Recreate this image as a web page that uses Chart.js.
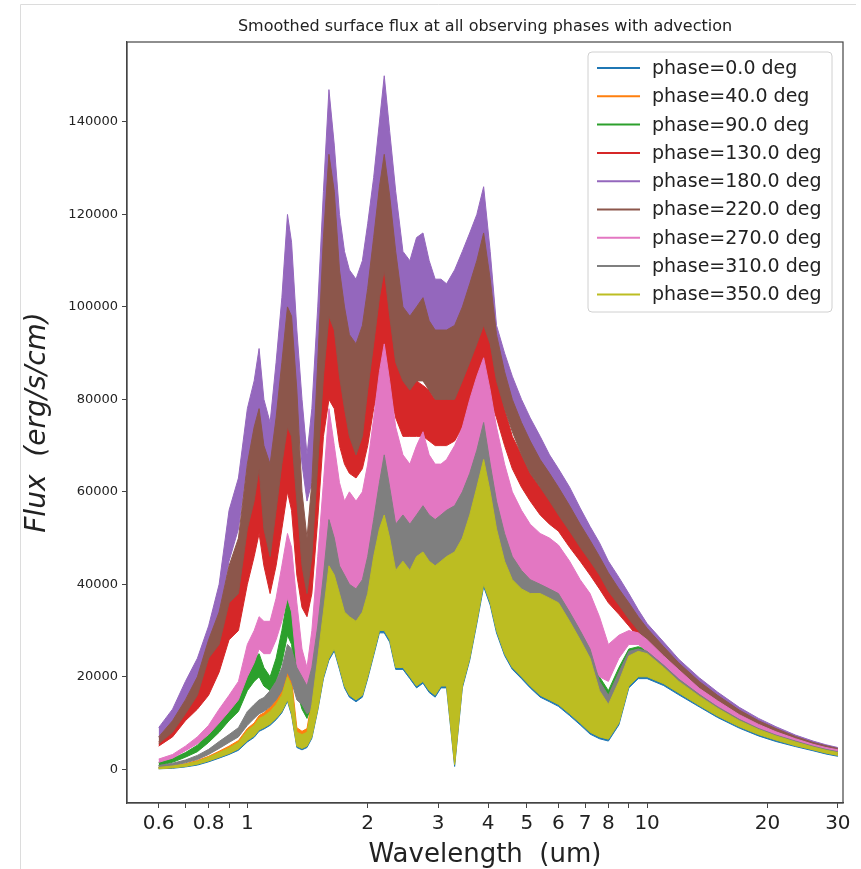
<!DOCTYPE html>
<html>
<head>
<meta charset="utf-8">
<title>Smoothed surface flux</title>
<script src="https://cdn.jsdelivr.net/npm/chart.js@4.4.1/dist/chart.umd.min.js"></script>
<style>
  html, body { margin: 0; padding: 0; background: #fff; }
  canvas { display: block; }
</style>
</head>
<body>
<canvas id="fluxChart" width="861" height="869"></canvas>
<script>
// wavelength grid (um) shared by every phase
const wavelength = [0.6, 0.65, 0.7, 0.75, 0.8, 0.85, 0.9, 0.95,
  1.0, 1.04, 1.07, 1.1, 1.14, 1.18, 1.22, 1.26, 1.29, 1.33, 1.37, 1.41, 1.45,
  1.5, 1.55, 1.6, 1.65, 1.7, 1.75, 1.8, 1.87, 1.94,
  2.0, 2.07, 2.14, 2.2, 2.27, 2.35, 2.45, 2.55, 2.65, 2.75, 2.85, 2.95,
  3.05, 3.15, 3.3, 3.45, 3.6, 3.75, 3.9,
  4.05, 4.2, 4.4, 4.6, 4.85,
  5.1, 5.4, 5.7, 6.0, 6.4, 6.8, 7.2, 7.6, 8.0, 8.5, 9.0, 9.5,
  10, 11, 12, 13.5, 15, 17, 19, 21, 23.5, 26, 28, 30];

const phases = [0, 40, 90, 130, 180, 220, 270, 310, 350];
const colors = ['#1f77b4', '#ff7f0e', '#2ca02c', '#d62728', '#9467bd', '#8c564b', '#e377c2', '#7f7f7f', '#bcbd22'];

// smoothed flux, top and bottom of the noisy band (erg/s/cm)
const flux0Hi = [400, 700, 1100, 1700, 2500, 3500, 4500, 5700,
  8200, 9300, 10800, 11300, 12300, 13800, 15800, 19500, 17500, 7800, 7300, 7800, 13500,
  23500, 33500, 43500, 41500, 37500, 33500, 32500, 31500, 33500,
  37500, 45500, 51500, 54500, 49500, 42500, 44500, 42500, 45500, 46500, 44500, 43500,
  44500, 45500, 46500, 49500, 54500, 60500, 66500,
  59500, 51500, 44500, 40500, 38500,
  37500, 37500, 36500, 35500, 31500, 27500, 23500, 16500, 13500, 18500, 24000, 25000,
  24500, 21800, 18800, 15600, 13000, 10400, 8500, 7100, 5800, 4700, 4000, 3500];
const flux0Lo = [100, 200, 500, 900, 1600, 2400, 3200, 4100,
  5900, 6900, 8200, 8700, 9500, 10700, 12200, 14700, 11700, 4700, 4200, 4700, 6700,
  12700, 19600, 23600, 25600, 21600, 17600, 15600, 14600, 15600,
  19600, 24600, 29500, 29500, 27500, 21600, 21600, 19600, 17600, 18600, 16600, 15600,
  17600, 17600, 600, 17600, 23600, 31500, 39500,
  35500, 29500, 24600, 21600, 19600,
  17600, 15600, 14600, 13600, 11600, 9600, 7600, 6600, 6100, 9600, 17600, 19600,
  19600, 18100, 16100, 13500, 11200, 8900, 7200, 6000, 4900, 4000, 3300, 2800];

const flux40Hi = [500, 800, 1200, 1900, 2800, 3900, 5000, 6200,
  8800, 10000, 11600, 12200, 13400, 15000, 17200, 21500, 19500, 9000, 8200, 8800, 15000,
  25000, 35000, 45000, 43000, 39000, 35000, 34000, 33000, 35000,
  39000, 47000, 53000, 56000, 51000, 44000, 46000, 44000, 47000, 48000, 46000, 45000,
  46000, 47000, 48000, 51000, 56000, 62000, 68000,
  61000, 53000, 46000, 42000, 40000,
  39000, 39000, 38000, 37000, 33000, 29000, 25000, 18000, 15000, 20000, 25000, 26000,
  25400, 22400, 19300, 16000, 13400, 10700, 8700, 7300, 6000, 4900, 4200, 3700];
const flux40Lo = [200, 400, 700, 1200, 1900, 2700, 3500, 4500,
  6400, 7400, 8800, 9300, 10000, 11400, 13000, 15600, 12500, 5300, 4800, 5300, 7500,
  13500, 20500, 25000, 27000, 23000, 19000, 17000, 16000, 17000,
  21000, 26000, 31000, 31000, 29000, 23000, 23000, 21000, 19000, 20000, 18000, 17000,
  19000, 19000, 1500, 19000, 25000, 33000, 41000,
  37000, 31000, 26000, 23000, 21000,
  19000, 17000, 16000, 15000, 13000, 11000, 9000, 7500, 7000, 10500, 18500, 20500,
  20500, 19000, 17000, 14200, 11800, 9400, 7700, 6500, 5200, 4300, 3600, 3100];

const flux90Hi = [1500, 2300, 3600, 5200, 7800, 10500, 14000, 17000,
  22000, 24000, 25000, 22000, 20000, 24000, 30000, 37000, 35000, 25000, 19000, 16000, 22000,
  33000, 46000, 63000, 56000, 48000, 44000, 41000, 40000, 42000,
  48000, 58000, 68000, 75000, 66000, 57000, 58000, 55000, 57000, 59000, 57000, 56000,
  57000, 58000, 59000, 62000, 66000, 71000, 77000,
  68000, 60000, 52000, 47000, 44000,
  42000, 41000, 40000, 39000, 35000, 31000, 27000, 20000, 17000, 22000, 26000, 26500,
  26000, 23000, 20000, 16500, 13800, 11000, 9000, 7600, 6200, 5100, 4400, 3900];
const flux90Lo = [800, 1500, 2600, 3800, 5800, 8000, 10500, 12500,
  17000, 19000, 20000, 18000, 17000, 19000, 23000, 29000, 27000, 17000, 13000, 11000, 14000,
  21000, 30000, 45000, 40000, 34000, 32000, 30000, 29000, 30000,
  33000, 38000, 44000, 50000, 44000, 38000, 41000, 39000, 39000, 41000, 39000, 37000,
  37000, 38000, 37000, 39000, 43000, 48000, 53000,
  47000, 40000, 36000, 32000, 30000,
  28000, 27000, 26000, 25000, 22000, 18000, 15000, 13000, 12000, 16000, 22000, 23000,
  23000, 20500, 18000, 14800, 12500, 10000, 8200, 6800, 5600, 4600, 4000, 3500];

const flux130Hi = [6000, 9000, 13000, 17000, 24000, 29000, 37000, 43000,
  56000, 64000, 69000, 62000, 58000, 66000, 78000, 88000, 84000, 64000, 48000, 42000, 52000,
  74000, 96000, 106000, 98000, 88000, 84000, 82000, 82000, 84000,
  90000, 100000, 108000, 112000, 104000, 94000, 86000, 84000, 84000, 83000, 82000, 80000,
  80000, 81000, 83000, 87000, 91000, 95000, 100000,
  92000, 86000, 78000, 72000, 68000,
  64000, 61000, 59000, 57000, 53000, 49500, 46000, 43000, 40000, 37000, 34000, 31500,
  29000, 25500, 22000, 18000, 15200, 12200, 10000, 8400, 6800, 5600, 4900, 4300];
const flux130Lo = [5000, 7000, 10500, 13000, 16000, 21000, 28000, 30000,
  40000, 46000, 51000, 44000, 38000, 44000, 52000, 60000, 56000, 42000, 35000, 33000, 38000,
  54000, 72000, 80000, 78000, 70000, 66000, 64000, 63000, 65000,
  70000, 78000, 84000, 88000, 82000, 76000, 72000, 72000, 72000, 72000, 71000, 70000,
  70000, 70000, 71000, 74000, 77000, 80000, 84000,
  80000, 76000, 70000, 65000, 61000,
  58000, 55000, 53000, 51500, 48000, 45000, 42000, 39000, 36000, 33500, 31000, 28500,
  26500, 23000, 20000, 16500, 14000, 11200, 9200, 7700, 6200, 5100, 4400, 3900];

const flux180Hi = [9000, 13000, 19000, 24000, 31000, 40000, 56000, 63000,
  78000, 84000, 91000, 80000, 75000, 88000, 102000, 120000, 114000, 95000, 80000, 68000, 78000,
  100000, 125000, 147000, 135000, 120000, 112000, 108000, 106000, 110000,
  118000, 128000, 140000, 150000, 138000, 125000, 112000, 110000, 115000, 116000, 110000, 106000,
  106000, 105000, 108000, 112000, 116000, 120000, 126000,
  112000, 96000, 90000, 85000, 80000,
  76000, 72000, 68000, 65000, 61000, 56500, 52500, 49000, 45000, 41500, 38000, 34500,
  31500, 27500, 23800, 19800, 16700, 13400, 11000, 9200, 7400, 6100, 5300, 4700];
const flux180Lo = [7000, 10000, 15000, 19000, 26000, 33000, 45000, 52000,
  66000, 70000, 76000, 68000, 64000, 74000, 85000, 100000, 94000, 78000, 66000, 58000, 62000,
  80000, 98000, 112000, 108000, 98000, 94000, 92000, 90000, 94000,
  98000, 106000, 115000, 122000, 112000, 102000, 95000, 96000, 98000, 98000, 96000, 94000,
  92000, 92000, 93000, 95000, 98000, 100000, 104000,
  98000, 88000, 83000, 78000, 73000,
  70000, 66000, 62500, 60000, 56000, 52000, 48500, 45000, 41500, 38000, 35000, 31500,
  29000, 25000, 22000, 18300, 15400, 12400, 10100, 8500, 6800, 5600, 4800, 4300];

const flux220Hi = [7000, 10500, 15000, 20000, 28000, 34000, 44000, 50000,
  66000, 74000, 78000, 70000, 66000, 76000, 88000, 100000, 98000, 82000, 60000, 50000, 62000,
  88000, 115000, 133000, 125000, 108000, 100000, 94000, 92000, 96000,
  104000, 115000, 126000, 133000, 124000, 112000, 100000, 98000, 100000, 102000, 97000, 95000,
  95000, 95000, 96000, 100000, 105000, 110000, 116000,
  106000, 94000, 86000, 80000, 75000,
  71000, 67000, 64000, 61000, 57000, 53000, 49500, 46000, 42500, 39000, 36000, 33000,
  30500, 26500, 23000, 19000, 16000, 12800, 10500, 8800, 7100, 5800, 5100, 4500];
const flux220Lo = [5500, 8000, 12000, 16000, 24000, 27000, 36000, 38000,
  52000, 58000, 65000, 52000, 46000, 56000, 66000, 74000, 72000, 58000, 44000, 38000, 46000,
  66000, 85000, 98000, 95000, 85000, 78000, 72000, 68000, 72000,
  82000, 92000, 102000, 108000, 98000, 88000, 84000, 82000, 84000, 84000, 82000, 80000,
  80000, 80000, 80000, 84000, 88000, 92000, 96000,
  92000, 84000, 78000, 73000, 68000,
  64000, 61000, 58000, 55000, 51500, 48000, 45000, 42000, 38500, 35500, 32500, 30000,
  27500, 24000, 21000, 17300, 14600, 11700, 9600, 8000, 6400, 5300, 4600, 4000];

const flux270Hi = [2200, 3200, 5000, 7000, 9500, 13000, 16000, 19000,
  27000, 30000, 33000, 32000, 32000, 37000, 44000, 51000, 48000, 36000, 26000, 22000, 30000,
  46000, 62000, 78000, 70000, 62000, 58000, 60000, 58000, 60000,
  66000, 76000, 86000, 92000, 84000, 74000, 68000, 66000, 70000, 73000, 68000, 66000,
  66000, 67000, 70000, 74000, 80000, 85000, 89000,
  82000, 74000, 66000, 60000, 56000,
  53000, 51000, 50000, 48500, 45000, 41000, 38000, 33000, 27000, 29000, 30000, 29500,
  28000, 24500, 21500, 17500, 14800, 11800, 9700, 8100, 6600, 5400, 4700, 4200];
const flux270Lo = [1500, 2400, 4000, 5500, 7500, 10000, 12500, 15000,
  20000, 23000, 26000, 25000, 25000, 28000, 32000, 37000, 34000, 22000, 17000, 15000, 19000,
  30000, 40000, 52000, 48000, 44000, 40000, 36000, 34000, 36000,
  42000, 48000, 54000, 58000, 54000, 48000, 44000, 42000, 42000, 44000, 42000, 40000,
  42000, 44000, 45000, 50000, 55000, 60000, 65000,
  62000, 56000, 50000, 46000, 42000,
  40000, 38000, 37000, 36000, 32000, 28000, 24000, 20000, 19000, 24000, 27000, 27000,
  25500, 22500, 19500, 16000, 13600, 10800, 8900, 7400, 6000, 4900, 4300, 3800];

const flux310Hi = [800, 1300, 2000, 3000, 4300, 6000, 7500, 9000,
  12500, 14000, 15000, 15500, 17000, 19000, 22000, 27000, 26000, 22000, 20000, 18000, 22000,
  31000, 42000, 54000, 50000, 44000, 42000, 40000, 39000, 41000,
  46000, 54000, 62000, 68000, 61000, 53000, 55000, 53000, 55000, 57000, 55000, 54000,
  55000, 56000, 57000, 60000, 64000, 69000, 75000,
  66000, 58000, 51000, 46000, 43000,
  41000, 40000, 39000, 38000, 34000, 30000, 26000, 19000, 16000, 21000, 25500, 26000,
  25500, 22500, 19500, 16200, 13500, 10800, 8800, 7400, 6100, 5000, 4300, 3800];
const flux310Lo = [400, 800, 1400, 2100, 3200, 4500, 5800, 7000,
  9500, 11000, 12000, 12500, 13500, 15000, 17000, 21000, 19000, 15000, 14000, 12000, 13000,
  19000, 28000, 42000, 38000, 32000, 30000, 29000, 29000, 30000,
  32000, 38000, 44000, 48000, 42000, 36000, 40000, 38000, 38000, 40000, 38000, 36000,
  36000, 37000, 36000, 38000, 42000, 47000, 52000,
  45000, 39000, 35000, 31000, 29000,
  27000, 26000, 25000, 24000, 21000, 17000, 14000, 12500, 11500, 15000, 21500, 22500,
  22500, 20000, 17500, 14500, 12200, 9800, 8000, 6700, 5500, 4500, 3900, 3400];

const flux350Hi = [400, 700, 1100, 1700, 2600, 3600, 4600, 5800,
  8400, 9500, 11000, 11500, 12500, 14000, 16000, 20000, 18000, 8000, 7500, 8000, 14000,
  24000, 34000, 44000, 42000, 38000, 34000, 33000, 32000, 34000,
  38000, 46000, 52000, 55000, 50000, 43000, 45000, 43000, 46000, 47000, 45000, 44000,
  45000, 46000, 47000, 50000, 55000, 61000, 67000,
  60000, 52000, 45000, 41000, 39000,
  38000, 38000, 37000, 36000, 32000, 28000, 24000, 17000, 14000, 19000, 24500, 25500,
  25000, 22000, 19000, 15800, 13200, 10500, 8600, 7200, 5900, 4800, 4100, 3600];
const flux350Lo = [100, 300, 600, 1100, 1800, 2600, 3400, 4400,
  6200, 7200, 8500, 9000, 9800, 11000, 12500, 15000, 12000, 5000, 4500, 5000, 7000,
  13000, 20000, 24000, 26000, 22000, 18000, 16000, 15000, 16000,
  20000, 25000, 30000, 30000, 28000, 22000, 22000, 20000, 18000, 19000, 17000, 16000,
  18000, 18000, 1000, 18000, 24000, 32000, 40000,
  36000, 30000, 25000, 22000, 20000,
  18000, 16000, 15000, 14000, 12000, 10000, 8000, 7000, 6500, 10000, 18000, 20000,
  20000, 18500, 16500, 13800, 11500, 9200, 7500, 6300, 5100, 4200, 3500, 3000];

const upperFlux = [flux0Hi, flux40Hi, flux90Hi, flux130Hi, flux180Hi, flux220Hi, flux270Hi, flux310Hi, flux350Hi];
const lowerFlux = [flux0Lo, flux40Lo, flux90Lo, flux130Lo, flux180Lo, flux220Lo, flux270Lo, flux310Lo, flux350Lo];

const xTickValues = [0.6, 0.7, 0.8, 0.9, 1, 2, 3, 4, 5, 6, 7, 8, 9, 10, 20, 30];
const xTickText = ['0.6', '', '0.8', '', '1', '2', '3', '4', '5', '6', '7', '8', '', '10', '20', '30'];
const yTickValues = [0, 20000, 40000, 60000, 80000, 100000, 120000, 140000];

const FONT = "'DejaVu Sans', 'Liberation Sans', sans-serif";
Chart.defaults.font.family = FONT;
Chart.defaults.color = '#222';

const toPoints = arr => arr.map((y, j) => ({ x: wavelength[j], y: y }));

// each phase is a filled band: upper edge fills down to the lower edge
const datasets = [];
phases.forEach((p, i) => {
  const ord = phases.length - i; // later phases are painted on top
  const common = {
    borderColor: colors[i],
    backgroundColor: colors[i],
    borderWidth: 1,
    pointRadius: 0,
    tension: 0,
    order: ord
  };
  datasets.push(Object.assign({
    label: 'phase=' + p.toFixed(1) + ' deg',
    data: toPoints(upperFlux[i]),
    fill: '+1'
  }, common));
  datasets.push(Object.assign({
    label: '',
    data: toPoints(lowerFlux[i]),
    fill: false
  }, common));
});

// figure frame, axes box, title and legend
const decorations = {
  id: 'decorations',
  beforeDraw(chart) {
    const ctx = chart.ctx;
    ctx.save();
    ctx.strokeStyle = '#dcdcdc';
    ctx.lineWidth = 1;
    ctx.beginPath();
    ctx.moveTo(20.5, 869);
    ctx.lineTo(20.5, 4.5);
    ctx.lineTo(856, 4.5);
    ctx.stroke();
    ctx.restore();
  },
  afterDraw(chart) {
    const ctx = chart.ctx;
    const a = chart.chartArea;
    ctx.save();
    ctx.strokeStyle = '#444';
    ctx.lineWidth = 1.2;
    ctx.strokeRect(a.left, a.top, a.right - a.left, a.bottom - a.top);

    ctx.fillStyle = '#222';
    ctx.font = '16px ' + FONT;
    ctx.textAlign = 'center';
    ctx.textBaseline = 'middle';
    ctx.fillText('Smoothed surface flux at all observing phases with advection', (a.left + a.right) / 2, 27);

    // legend box
    const bx = a.right - 255, by = a.top + 10, bw = 244, bh = 260, r = 4;
    ctx.beginPath();
    ctx.moveTo(bx + r, by);
    ctx.arcTo(bx + bw, by, bx + bw, by + bh, r);
    ctx.arcTo(bx + bw, by + bh, bx, by + bh, r);
    ctx.arcTo(bx, by + bh, bx, by, r);
    ctx.arcTo(bx, by, bx + bw, by, r);
    ctx.closePath();
    ctx.fillStyle = 'rgba(255,255,255,0.85)';
    ctx.fill();
    ctx.strokeStyle = '#d0d0d0';
    ctx.lineWidth = 1;
    ctx.stroke();

    ctx.font = '19px ' + FONT;
    ctx.textAlign = 'left';
    ctx.textBaseline = 'middle';
    phases.forEach((p, i) => {
      const ds = chart.data.datasets[i * 2];
      const yy = by + 16 + i * 28.3;
      ctx.strokeStyle = ds.borderColor;
      ctx.lineWidth = 2;
      ctx.beginPath();
      ctx.moveTo(bx + 9, yy);
      ctx.lineTo(bx + 52, yy);
      ctx.stroke();
      ctx.fillStyle = '#222';
      ctx.fillText(ds.label, bx + 64, yy + 1);
    });
    ctx.restore();
  }
};

new Chart(document.getElementById('fluxChart'), {
  type: 'line',
  data: { datasets: datasets },
  options: {
    responsive: false,
    animation: false,
    devicePixelRatio: 1,
    layout: { padding: { top: 42, right: 18, bottom: 0, left: 0 } },
    plugins: {
      legend: { display: false },
      title: { display: false },
      tooltip: { enabled: false },
      filler: { propagate: false }
    },
    scales: {
      x: {
        type: 'logarithmic',
        min: 0.5,
        max: 30.9,
        afterBuildTicks: s => { s.ticks = xTickValues.map(v => ({ value: v })); },
        afterFit: s => { s.height = 66; },
        ticks: {
          autoSkip: false,
          maxRotation: 0,
          minRotation: 0,
          padding: 4,
          color: '#222',
          font: { size: 20 },
          callback: (v, i) => xTickText[i]
        },
        grid: { display: true, drawOnChartArea: false, drawTicks: true, tickLength: 5, color: '#444' },
        border: { display: true, color: '#444', width: 1.2 },
        title: {
          display: true,
          text: 'Wavelength  (um)',
          color: '#222',
          font: { size: 26, lineHeight: 1 },
          padding: { top: 0, bottom: 1 }
        }
      },
      y: {
        type: 'linear',
        min: -7300,
        max: 157300,
        afterBuildTicks: s => { s.ticks = yTickValues.map(v => ({ value: v })); },
        afterFit: s => { s.width = 127; },
        ticks: {
          padding: 4,
          color: '#222',
          font: { size: 13 },
          callback: v => String(v)
        },
        grid: { display: true, drawOnChartArea: false, drawTicks: true, tickLength: 5, color: '#444' },
        border: { display: true, color: '#444', width: 1.2 },
        title: {
          display: true,
          text: 'Flux  (erg/s/cm)',
          color: '#222',
          font: { size: 28, style: 'italic', lineHeight: 1 },
          padding: { top: 24, bottom: 0 }
        }
      }
    }
  },
  plugins: [decorations]
});
</script>
</body>
</html>
